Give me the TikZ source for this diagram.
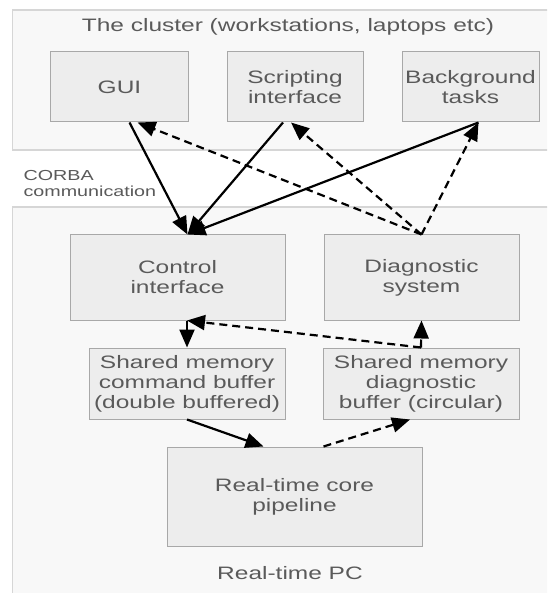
\documentclass[tikz,border=0pt]{standalone}
\usepackage{fontspec}
\setmainfont{Liberation Sans}[FakeStretch=1.36]
\usetikzlibrary{arrows.meta}

\definecolor{panelfill}{HTML}{F8F8F8}
\definecolor{paneldraw}{HTML}{D6D6D6}
\definecolor{boxfill}{HTML}{EDEDED}
\definecolor{boxdraw}{HTML}{A8A8A8}
\definecolor{textgray}{HTML}{5A5A5A}

\begin{document}
\begin{tikzpicture}[x = 1pt, y = -1pt, > = {Triangle[length = 18pt, width = 15pt]},
	panel/.style = {fill = panelfill, draw = paneldraw, line width = 1.2pt},
	box/.style = {fill = boxfill, draw = boxdraw, line width = 1pt, text = textgray,
		align = center, inner sep = 0pt, font = \fontsize{18}{20}\selectfont},
	paneltext/.style = {text = textgray, font = \fontsize{18}{20}\selectfont},
	cmdlink/.style = {->, line width = 2.2pt},
	diaglink/.style = {->, line width = 2.2pt, dash pattern = on 8pt off 5pt}]

	% Page
	
	\clip (0, 0) rectangle (547, 593);
	\fill [white] (0, 0) rectangle (547, 593);
	
	% Panels
	
	\draw [panel] (12.5, 10) rectangle (560, 150);
	\draw [panel] (12.5, 207) rectangle (560, 600);
	
	\node [paneltext] (cluster) at (288, 27) {The cluster (workstations, laptops etc)};
	\node [paneltext, anchor = west, align = left, font = \fontsize{14.5}{16}\selectfont] (corba) at (20, 184) {CORBA\\communication};
	\node [paneltext] (rtpc) at (290, 573) {Real-time PC};
	
	% Boxes
	
	\node [box, minimum width = 138, minimum height = 70] (gui) at (119.5, 87) {GUI};
	\node [box, minimum width = 136, minimum height = 70] (script) at (295, 87) {Scripting\\interface};
	\node [box, minimum width = 137, minimum height = 70] (bgtasks) at (470.5, 87) {Background\\tasks};
	
	\node [box, minimum width = 215, minimum height = 85] (control) at (177.5, 277.5) {Control\\interface};
	\node [box, minimum width = 195, minimum height = 85] (diag) at (421.5, 277.5) {Diagnostic\\system};
	
	\node [box, minimum width = 196, minimum height = 71] (cmdbuf) at (187, 383.5) {Shared memory\\command buffer\\(double buffered)};
	\node [box, minimum width = 196, minimum height = 71] (diagbuf) at (421, 383.5) {Shared memory\\diagnostic\\buffer (circular)};
	
	\node [box, minimum width = 255, minimum height = 99] (core) at (294.5, 496.5) {Real-time core\\pipeline};
	
	% Commands
	
	\draw [cmdlink] ([xshift = 10]gui.south) -- ([xshift = 10]control.north);
	\draw [cmdlink] ([xshift = -12]script.south) -- ([xshift = 10]control.north);
	\draw [cmdlink] ([xshift = 8]bgtasks.south) -- ([xshift = 10]control.north);
	\draw [cmdlink] (cmdbuf.north |- control.south) -- (cmdbuf.north);
	\draw [cmdlink] (cmdbuf.south) -- ([xshift = -31]core.north);
	
	% Diagnostics
	
	\draw [diaglink] (diag.north) -- ([xshift = 18]gui.south);
	\draw [diaglink] (diag.north) -- ([xshift = -4]script.south);
	\draw [diaglink] (diag.north) -- ([xshift = 8]bgtasks.south);
	\draw [diaglink] (diagbuf.north) -- (diag.south);
	\draw [diaglink] (diagbuf.north) -- (cmdbuf.north |- control.south);
	\draw [diaglink] ([xshift = 29]core.north) -- ([xshift = -11]diagbuf.south);

\end{tikzpicture}
\end{document}
